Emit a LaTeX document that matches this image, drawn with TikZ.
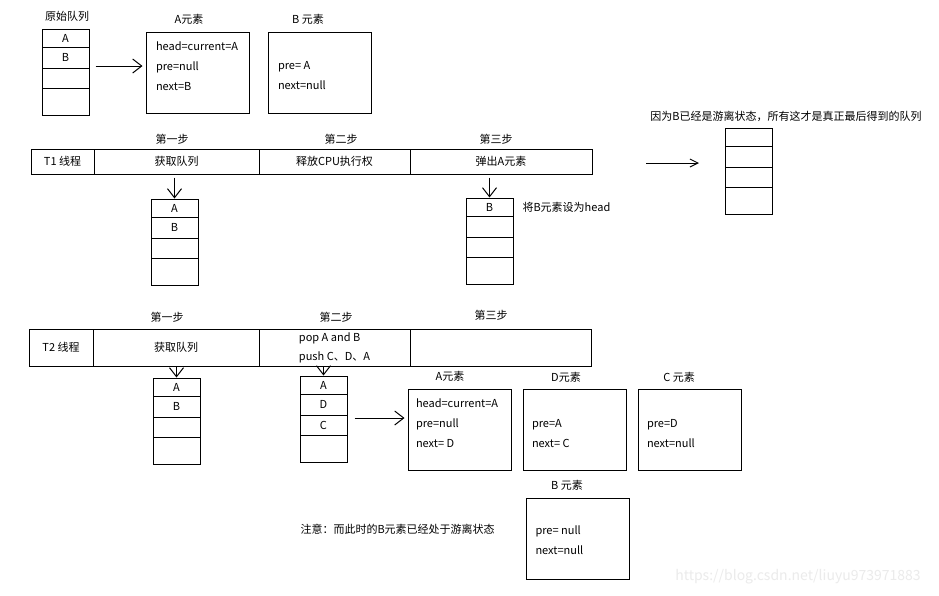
\documentclass[tikz,border=0pt]{standalone}
\usepackage{fontspec}
\setmainfont{Noto Sans CJK SC}
\usetikzlibrary{positioning,arrows.meta}

\begin{document}
\begin{tikzpicture}[x=1pt, y=-1pt, line width=1pt,
  font=\fontsize{11}{13}\selectfont,
  cell/.style={draw, minimum width=47pt, inner sep=0pt},
  step cell/.style={draw, inner sep=0pt, align=left, font=\fontsize{11}{19}\selectfont},
  elem box/.style={draw, minimum width=103pt, minimum height=81pt},
  elem text/.style={inner sep=0pt, align=left, font=\fontsize{11}{20}\selectfont},
  arr/.style={-{Straight Barb[length=9pt, width=14pt]}},
  small arr/.style={-{Straight Barb[length=8pt, width=8pt]}}]

\fill[white] (0,0) rectangle (939,595);
\useasboundingbox (0,0) rectangle (939,595);

\foreach \q/\x/\y/\la/\lb/\lc in {q0/42/29/A/B/{}, t1a/151/199/A/B/{}, t1b/466/198/B/{}/{}, fin/725/128/{}/{}/{}, t2a/153/378/A/B/{}, t2b/300/376/A/D/C}
  \foreach \t/\a/\b [count=\i] in {\la/0/18, \lb/18/39, \lc/39/59, /59/86}
    \node [cell, minimum height=\b-\a] (\q-\i) at (\x+23.5, \y+\a/2+\b/2) {\t};

\foreach \n/\a/\b/\t in {0/31/94/T1 线程, 1/94/259/获取队列, 2/259/410/释放CPU执行权, 3/410/592/弹出A元素}
  \node [step cell, minimum width=\b-\a, minimum height=25] (t1-\n) at ({(\a+\b)/2}, 161.5) {\t};

\foreach \n/\a/\b/\t in {0/29/93/T2 线程, 1/93/259/获取队列, 2/259/410/{pop A and B\\push C、D、A}, 3/410/591/{}}
  \node [step cell, minimum width=\b-\a, minimum height=37] (t2-\n) at ({(\a+\b)/2}, 347.5) {\t};

\foreach \t/\x [count=\i] in {第一步/172, 第二步/341, 第三步/496}
  \node (t1-step\i) at (\x, 139) {\t};
\foreach \t/\x/\y [count=\i] in {第一步/167/317, 第二步/336/317, 第三步/491/315}
  \node (t2-step\i) at (\x, \y) {\t};

\node (q0-title) at (67,16) {原始队列};
\node (fin-title) at (786,116) {因为B已经是游离状态，所有这才是真正最后得到的队列};
\node [anchor=west, inner sep=0pt] (t1b-note) at (522,207) {将B元素设为head};
\node [anchor=west, inner sep=0pt] (note) at (300,529) {注意：而此时的B元素已经处于游离状态};

\foreach \e/\x/\y/\t/\lx/\ly in {a1/197.5/72.5/A元素/189/19, b1/319.5/72.5/B 元素/308/19, a2/459.5/429.5/A元素/450/376, d2/574.5/430/D元素/566/377, c2/689.5/430/C 元素/679/377, b2/578/538.5/B 元素/567/485}
{
  \node [elem box] (\e-box) at (\x,\y) {};
  \node (\e-title) at (\lx,\ly) {\t};
}

\node [elem text, below right=9.5pt and 10pt of a1-box.north west] (a1-text) {head=current=A\\pre=null\\next=B};
\node [elem text, below right=29.5pt and 10pt of b1-box.north west] (b1-text) {pre= A\\next=null};
\node [elem text, below right=9.5pt and 8pt of a2-box.north west] (a2-text) {head=current=A\\pre=null\\next= D};
\node [elem text, below right=30pt and 9pt of d2-box.north west] (d2-text) {pre=A\\next= C};
\node [elem text, below right=30pt and 9pt of c2-box.north west] (c2-text) {pre=D\\next=null};
\node [elem text, below right=27.5pt and 9pt of b2-box.north west] (b2-text) {pre= null\\next=null};

\draw [arr, shorten <=6pt, shorten >=3pt] ([yshift=-8.5pt]q0-2.east) -- ([yshift=-8.5pt]q0-2.east -| a1-box.west);
\draw [arr, shorten <=3pt] (t1a-1.north |- t1-1.south) -- (t1a-1.north);
\draw [arr, shorten <=3pt] (t1b-1.north |- t1-3.south) -- (t1b-1.north);
\draw [arr] (t2a-1.north |- t2-1.south) -- (t2a-1.north);
\draw [arr] (t2b-1.north |- t2-2.south) -- (t2b-1.north);
\draw [arr, shorten <=7pt, shorten >=3pt] ([yshift=7pt]t2b-3.east) -- ([yshift=7pt]t2b-3.east -| a2-box.west);

\coordinate (move-from) at (646,163);
\coordinate (move-to) at (699,163);
\draw [small arr] (move-from) -- (move-to);

\node [text=black!8, font=\fontsize{14}{16}\selectfont] (watermark) at (798,577) {https://blog.csdn.net/liuyu973971883};

\end{tikzpicture}
\end{document}
